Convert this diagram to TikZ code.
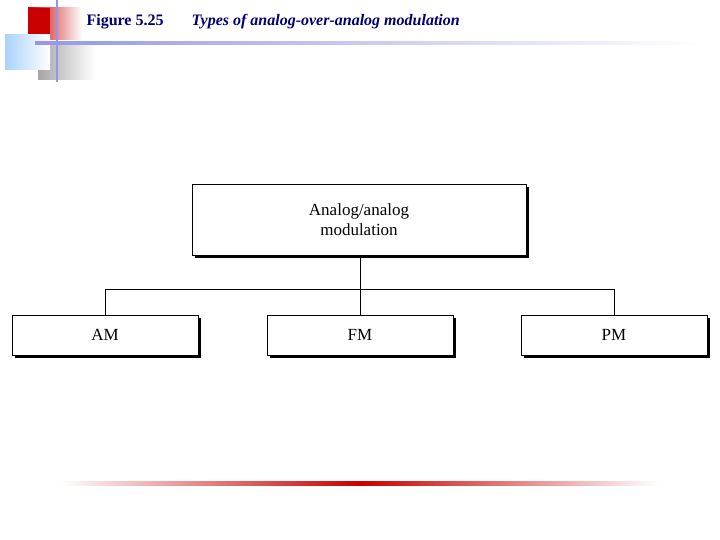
\documentclass[tikz,border=0pt]{standalone}
\usepackage{fontspec}
\setmainfont{Liberation Serif}
\usetikzlibrary{shadows}
\definecolor{navy}{RGB}{0,0,110}
\definecolor{lav}{RGB}{150,150,230}
\definecolor{deco}{RGB}{200,0,0}
\definecolor{skyb}{RGB}{170,210,250}
\tikzstyle{box}=[draw,thick,fill=white,inner sep=0pt,font=\fontsize{17}{20}\selectfont,align=center,
  drop shadow={shadow xshift=3pt,shadow yshift=-3pt,fill=black,opacity=1}]
\tikzstyle{edge}=[draw,thick,-]

\begin{document}
\begin{tikzpicture}[x=1pt,y=-1pt]
            \useasboundingbox (0,0) rectangle (720,540);

            % corner decoration
            \shade[left color=deco,right color=white] (28,8) rectangle (82,40);
            \fill[deco] (28,8) rectangle (50,40);
            \shade[left color=gray!70,right color=white] (38,45) rectangle (95,80);
            \shade[left color=skyb,right color=white] (5,35) rectangle (50,70);
            \draw[lav,line width=2.5] (57,0) -- (57,82);
            \shade[left color=lav,right color=white] (35,42) rectangle (700,45);

            \node[anchor=west,text=navy,font=\fontsize{16}{18}\selectfont\bfseries] (fig) at (83,22) {Figure 5.25};
            \node[anchor=west,text=navy,font=\fontsize{16}{18}\selectfont\bfseries\itshape] (title) at (188,22) {Types of analog-over-analog modulation};

            \node[box,minimum width=334,minimum height=71] (top) at (359,219.5) {Analog/analog\\modulation};
            \node[box,minimum width=186,minimum height=40] (am) at (105,335) {AM};
            \node[box,minimum width=186,minimum height=40] (fm) at (360,335) {FM};
            \node[box,minimum width=186,minimum height=40] (pm) at (614,335) {PM};

            \coordinate (bus) at (360,289);
            \path[edge] (top.south -| fm.north) -- (fm.north);
            \path[edge] (am.north) -- (am.north |- bus) -- (pm.north |- bus) -- (pm.north);

            % bottom rule
            \shade[left color=white,right color=deco] (60,481) rectangle (360,485);
            \shade[left color=deco,right color=white] (360,481) rectangle (660,485);
\end{tikzpicture}
\end{document}
